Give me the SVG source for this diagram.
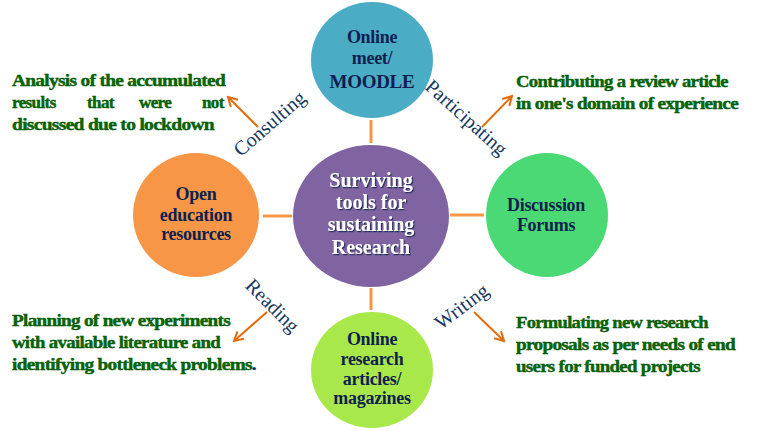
<svg xmlns="http://www.w3.org/2000/svg" width="763" height="431" viewBox="0 0 763 431">
<defs>
<marker id="ah" viewBox="0 0 12 12" refX="10" refY="6" markerWidth="12" markerHeight="12" markerUnits="userSpaceOnUse" orient="auto">
<path d="M1,1 L10,6 L1,11" fill="none" stroke="#E46C0A" stroke-width="2"/>
</marker>
<filter id="sh" x="-10%" y="-10%" width="120%" height="130%">
<feDropShadow dx="1.2" dy="1.2" stdDeviation="0" flood-color="#1F2D5A" flood-opacity="1"/>
</filter>
<style>
text{font-family:"Liberation Serif","DejaVu Serif","Times New Roman",serif}
.node{font-weight:bold;font-size:18px;fill:#0F1F4F;text-anchor:middle;letter-spacing:-0.3px}
.ctr{font-weight:bold;font-size:20px;text-anchor:middle;fill:#FFFFFF;filter:url(#sh)}
.lab{font-size:20px;fill:#17375E;text-anchor:middle}
.note{font-weight:bold;font-size:17px;fill:#006A00;stroke:#004A00;stroke-width:0.4;letter-spacing:-0.6px}
.conn{stroke:#F79646;stroke-width:3;fill:none}
.arr{stroke:#E46C0A;stroke-width:2;fill:none;marker-end:url(#ah)}
</style>
</defs>
<rect width="763" height="431" fill="#FFFFFF"/>

<g id="connectors">
<line class="conn" x1="371" y1="120" x2="371" y2="143"/>
<line class="conn" x1="371" y1="288" x2="371" y2="310"/>
<line class="conn" x1="263" y1="216" x2="292" y2="216"/>
<line class="conn" x1="450" y1="215" x2="484" y2="215"/>
<line class="arr" x1="258" y1="127" x2="228" y2="97"/>
<line class="arr" x1="482" y1="127" x2="512" y2="96"/>
<line class="arr" x1="267" y1="312" x2="234" y2="341"/>
<line class="arr" x1="474" y1="312" x2="504" y2="341"/>
</g>

<g id="node-online-meet">
<ellipse cx="372" cy="60" rx="61" ry="58" fill="#4BACC6"/>
<text class="node" x="372" y="43">Online</text>
<text class="node" x="372" y="64">meet/</text>
<text class="node" x="372" y="88" style="font-size:19px">MOODLE</text>
</g>

<g id="node-center">
<ellipse cx="371" cy="216" rx="78" ry="71" fill="#8064A2"/>
<text class="ctr" x="371" y="187">Surviving</text>
<text class="ctr" x="371" y="209">tools for</text>
<text class="ctr" x="371" y="231">sustaining</text>
<text class="ctr" x="371" y="254">Research</text>
</g>

<g id="node-open-education">
<ellipse cx="196" cy="215" rx="63" ry="62" fill="#F79646"/>
<text class="node" x="196" y="200">Open</text>
<text class="node" x="196" y="221">education</text>
<text class="node" x="196" y="240">resources</text>
</g>

<g id="node-discussion">
<ellipse cx="547" cy="215" rx="61" ry="62" fill="#4AD975"/>
<text class="node" x="546" y="211">Discussion</text>
<text class="node" x="546" y="231">Forums</text>
</g>

<g id="node-online-research">
<ellipse cx="372" cy="370" rx="61" ry="58" fill="#A9E84B"/>
<text class="node" x="372" y="345">Online</text>
<text class="node" x="372" y="365">research</text>
<text class="node" x="372" y="385">articles/</text>
<text class="node" x="372" y="404">magazines</text>
</g>

<g id="labels">
<text class="lab" transform="translate(270,124) rotate(-41)" x="0" y="6">Consulting</text>
<text class="lab" transform="translate(466,118) rotate(42)" x="0" y="6">Participating</text>
<text class="lab" transform="translate(272,306) rotate(45)" x="0" y="6">Reading</text>
<text class="lab" transform="translate(462,307) rotate(-37)" x="0" y="6">Writing</text>
</g>

<g id="notes">
<text class="note" x="12" y="86" textLength="213" lengthAdjust="spacingAndGlyphs">Analysis of the accumulated</text>
<text class="note" y="108"><tspan x="12">results</tspan><tspan x="87">that</tspan><tspan x="139">were</tspan><tspan x="202">not</tspan></text>
<text class="note" x="12" y="130" textLength="202" lengthAdjust="spacingAndGlyphs">discussed due to lockdown</text>

<text class="note" x="516" y="87" textLength="212" lengthAdjust="spacingAndGlyphs">Contributing a review article</text>
<text class="note" x="516" y="109" textLength="222" lengthAdjust="spacingAndGlyphs">in one's domain of experience</text>

<text class="note" x="12" y="326" textLength="218" lengthAdjust="spacingAndGlyphs">Planning of new experiments</text>
<text class="note" x="12" y="348" textLength="208" lengthAdjust="spacingAndGlyphs">with available literature and</text>
<text class="note" x="12" y="370" textLength="244" lengthAdjust="spacingAndGlyphs">identifying bottleneck problems<tspan style="fill:#0F1F4F;stroke:#0F1F4F">.</tspan></text>

<text class="note" x="516" y="328" textLength="192" lengthAdjust="spacingAndGlyphs">Formulating new research</text>
<text class="note" x="516" y="350" textLength="219" lengthAdjust="spacingAndGlyphs">proposals as per needs of end</text>
<text class="note" x="516" y="372" textLength="184" lengthAdjust="spacingAndGlyphs">users for funded projects</text>
</g>
</svg>
